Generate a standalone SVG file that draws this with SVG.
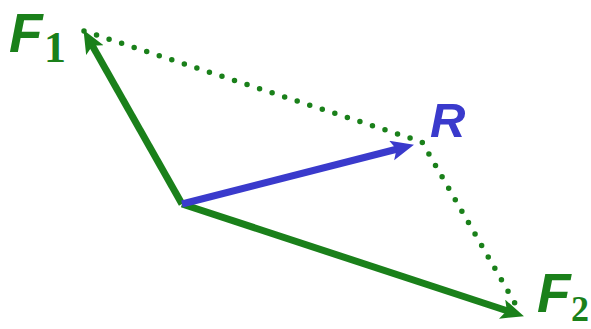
<svg xmlns="http://www.w3.org/2000/svg" width="591" height="329" viewBox="0 0 591 329">
<style>
.g{stroke:#1a801a;stroke-width:7;fill:none}
.b{stroke:#3a3acc;stroke-width:7;fill:none}
.dot{stroke:#1a801a;stroke-width:5.5;fill:none;stroke-dasharray:0 13.2;stroke-linecap:round}
.lbl{font-family:"Liberation Sans",Arial,sans-serif;font-weight:bold;font-style:italic}
.sub{font-family:"Liberation Serif","Times New Roman",serif;font-weight:bold;font-style:normal}
</style>
<defs>
<marker id="ag" markerUnits="userSpaceOnUse" markerWidth="30" markerHeight="30" refX="6" refY="10" orient="auto"><path d="M0,0 L23,10 L0,20 L5,10 z" fill="#1a801a"/></marker>
<marker id="ab" markerUnits="userSpaceOnUse" markerWidth="30" markerHeight="30" refX="6" refY="10" orient="auto"><path d="M0,0 L23,10 L0,20 L5,10 z" fill="#3a3acc"/></marker>
</defs>
<g id="connectors">
<path class="dot" d="M84,31 L422,142 L520,312"/>
<line id="F1-vec" class="g" x1="182" y1="204" x2="91.9" y2="44.9" marker-end="url(#ag)"/>
<line id="F2-vec" class="g" x1="182" y1="204" x2="507.8" y2="311" marker-end="url(#ag)"/>
<line id="R-vec" class="b" x1="182" y1="204" x2="397.5" y2="149" marker-end="url(#ab)"/>
</g>
<g id="F1"><text x="9" y="52" class="lbl" font-size="55" fill="#1a801a">F<tspan class="sub" x="44" y="62" font-size="44">1</tspan></text></g>
<g id="R"><text x="430" y="137" class="lbl" font-size="49" fill="#3a3acc">R</text></g>
<g id="F2"><text x="537" y="312" class="lbl" font-size="55" fill="#1a801a">F<tspan class="sub" x="571" y="321" font-size="36">2</tspan></text></g>
</svg>
